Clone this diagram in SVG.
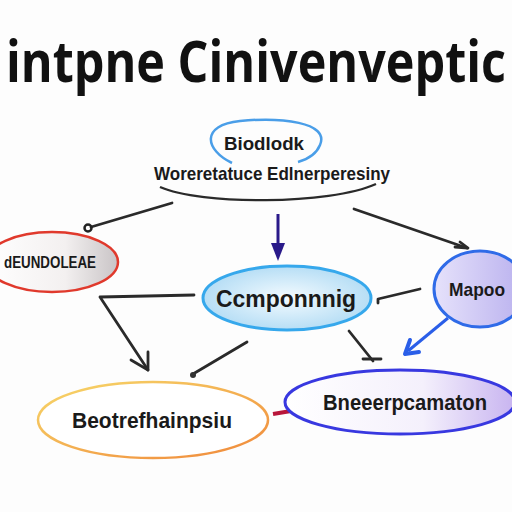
<svg xmlns="http://www.w3.org/2000/svg" width="512" height="512" viewBox="0 0 512 512">
<defs>
<linearGradient id="gGray" x1="0" y1="0" x2="1" y2="0"><stop offset="0" stop-color="#ffffff"/><stop offset="0.6" stop-color="#f3f0f0"/><stop offset="1" stop-color="#c9c4c6"/></linearGradient>
<radialGradient id="gBlue" cx="0.5" cy="0.5" r="0.6"><stop offset="0" stop-color="#f4fbff"/><stop offset="1" stop-color="#aad8f3"/></radialGradient>
<linearGradient id="gLav" x1="0" y1="0" x2="1" y2="0"><stop offset="0" stop-color="#e6e2fb"/><stop offset="1" stop-color="#b9b0ee"/></linearGradient>
<linearGradient id="gLav2" x1="0" y1="0" x2="1" y2="0"><stop offset="0" stop-color="#ffffff"/><stop offset="0.6" stop-color="#f4f0fc"/><stop offset="1" stop-color="#c8b4f0"/></linearGradient>
<linearGradient id="gYel" x1="0" y1="0" x2="1" y2="1"><stop offset="0" stop-color="#f7d86a"/><stop offset="1" stop-color="#f0883a"/></linearGradient>
</defs>
<style>
.ln{fill:none;stroke:#2a2a2a;stroke-width:2.8;stroke-linecap:round;stroke-linejoin:round}
.lbl{font-family:"Liberation Sans",Arial,sans-serif;font-weight:bold;fill:#1a1a1a;text-anchor:middle}
.title{font-family:"Open Sans","Noto Sans",sans-serif;font-weight:700;fill:#111}
</style>
<rect width="512" height="512" fill="#fdfdfd"/>
<text class="title" x="6" y="65.1" font-size="45" textLength="500" lengthAdjust="spacingAndGlyphs" transform="scale(1,1.26)">intpne Cinivenveptic</text>

<g id="connectors">
<path class="ln" d="M172,203 L91,227"/>
<circle cx="88" cy="228" r="3.5" fill="none" stroke="#222" stroke-width="2.5"/>
<path class="ln" d="M354,209 L467,248"/>
<path class="ln" d="M455,247 L468,248 L460,242" stroke-width="3"/>
<path d="M278,214 L278,246" stroke="#2a1a8a" stroke-width="3" fill="none"/>
<path d="M271,243 L285,243 L278,261 Z" fill="#2a1a8a"/>
<path class="ln" d="M194,295 L100,297 L148,370"/>
<path class="ln" d="M148,352 L148,370 L131,360"/>
<path class="ln" d="M247,342 L193,374"/>
<circle cx="193" cy="375" r="3" fill="#333"/>
<path class="ln" d="M349,331 L373,361"/>
<path class="ln" d="M363,359 L381,359"/>
<path class="ln" d="M420,289 L378,299 L378,303"/>
<path d="M448,318 L408,351" stroke="#2a5ee8" stroke-width="3" fill="none"/>
<path d="M405,354 L410,340 M405,354 L419,352" stroke="#2a5ee8" stroke-width="4" fill="none" stroke-linecap="round"/>
<path d="M273,414 L291,411" stroke="#b8163a" stroke-width="4" fill="none"/>
</g>

<g id="node-top">
<path d="M232,163 C205,150 200,125 240,121 C280,117 330,122 320,145 C316,155 305,160 298,162" fill="none" stroke="#4a9ee8" stroke-width="2.5"/>
<text class="lbl" x="264" y="150" font-size="19" textLength="80" lengthAdjust="spacingAndGlyphs">Biodlodk</text>
<text class="lbl" x="272" y="180" font-size="19" textLength="236" lengthAdjust="spacingAndGlyphs">Woreretatuce Edlnerperesiny</text>
<path d="M160,187 C200,205 330,205 376,184" fill="none" stroke="#2a2a2a" stroke-width="2.4"/>
</g>

<g id="node-left">
<ellipse cx="52" cy="262" rx="66" ry="30" fill="url(#gGray)" stroke="#e0392c" stroke-width="2.5"/>
<text class="lbl" x="50" y="268" font-size="17" textLength="92" lengthAdjust="spacingAndGlyphs">dEUNDOLEAE</text>
</g>

<g id="node-center">
<ellipse cx="287" cy="298" rx="84" ry="32" fill="url(#gBlue)" stroke="#36a8ec" stroke-width="3"/>
<text class="lbl" x="286" y="307" font-size="24" textLength="140" lengthAdjust="spacingAndGlyphs">Ccmponnnig</text>
</g>

<g id="node-right">
<ellipse cx="480" cy="289" rx="46" ry="38" fill="url(#gLav)" stroke="#2f6be8" stroke-width="3"/>
<text class="lbl" x="477" y="296" font-size="19" textLength="56" lengthAdjust="spacingAndGlyphs">Mapoo</text>
</g>

<g id="node-bottom-left">
<ellipse cx="153" cy="420" rx="115" ry="38" fill="#ffffff" stroke="url(#gYel)" stroke-width="2.5"/>
<text class="lbl" x="152" y="428" font-size="22" textLength="160" lengthAdjust="spacingAndGlyphs">Beotrefhainpsiu</text>
</g>

<g id="node-bottom-right">
<ellipse cx="400" cy="402" rx="115" ry="32" fill="url(#gLav2)" stroke="#3838e0" stroke-width="3"/>
<text class="lbl" x="405" y="410" font-size="22" textLength="164" lengthAdjust="spacingAndGlyphs">Bneeerpcamaton</text>
</g>
</svg>
